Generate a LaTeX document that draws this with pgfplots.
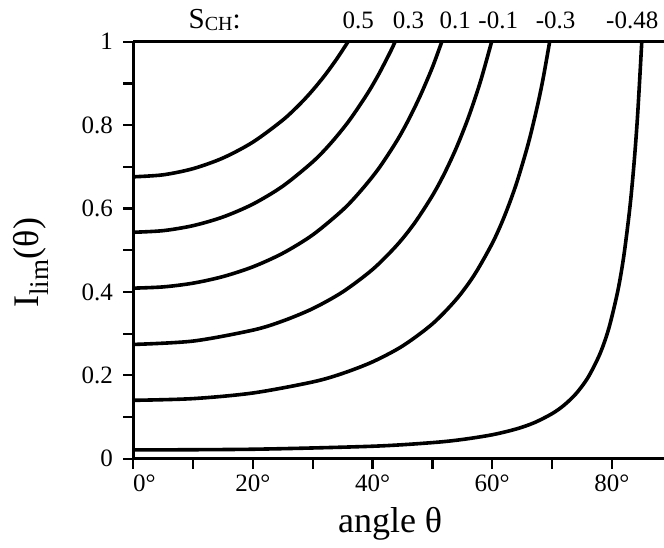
\documentclass[border=0pt]{standalone}
\usepackage{fontspec}
\setmainfont{Liberation Serif}
\usepackage{pgfplots}
\pgfplotsset{compat=1.18}
\pgfplotsset{curve/.style={black, solid, line width=3.6pt, smooth, mark=none}}
\begin{document}
\begin{tikzpicture}
\useasboundingbox (-133.3pt,-88.3pt) rectangle (530.7pt,458.7pt);
\clip (-133.3pt,-88.3pt) rectangle (530.7pt,458.7pt);
\begin{axis}[
  scale only axis, width=538.4pt, height=417pt,
  xmin=0, xmax=90, ymin=0, ymax=1,
  separate axis lines,
  axis line style={black, line width=2.6pt},
  xtick={0,20,40,60,80}, xticklabels={\hspace*{22pt}0°,20°,40°,60°,80°},
  minor xtick={10,30,50,70,90},
  ytick={0,0.2,0.4,0.6,0.8,1}, yticklabels={0,0.2,0.4,0.6,0.8,1},
  minor ytick={0.1,0.3,0.5,0.7,0.9},
  tick align=outside, xtick pos=left, ytick pos=left,
  major tick length=10pt, minor tick length=10pt,
  tick style={black, line width=2.2pt},
  minor tick style={black, line width=2.2pt},
  tick label style={font=\fontsize{25}{28}\selectfont},
  xticklabel style={yshift=-3pt},
  yticklabel style={xshift=-7pt},
  xlabel={angle θ}, ylabel={I\textsubscript{\fontsize{27}{28}\selectfont lim}(θ)},
  label style={font=\fontsize{36}{40}\selectfont},
  xlabel style={at={(axis description cs:0.477,-0.155)}, anchor=center},
  ylabel style={at={(axis description cs:-0.19,0.47)}, anchor=center},
  clip=false,
]
\addplot[curve] coordinates {(0,0.676)(5,0.6808)(10,0.6956)(15,0.7212)(20,0.7593)(25,0.8122)(28,0.8526)(30,0.8839)(32,0.9190)(34,0.9585)(35.9,1.0)};
\addplot[curve] coordinates {(0,0.543)(5,0.5469)(10,0.5589)(15,0.5797)(20,0.6106)(25,0.6537)(30,0.7120)(33,0.7563)(36,0.8091)(39,0.8724)(41,0.9212)(43,0.9766)(43.76,1.0)};
\addplot[curve] coordinates {(0,0.409)(5,0.4120)(10,0.4210)(15,0.4368)(20,0.4602)(25,0.4928)(30,0.5369)(35,0.5964)(38,0.6420)(41,0.6955)(44,0.7609)(46,0.8124)(48,0.8715)(50,0.9386)(51.57,1.0)};
\addplot[curve] coordinates {(0,0.274)(10,0.2821)(20,0.3084)(25,0.3303)(30,0.3600)(35,0.4000)(40,0.4539)(44,0.5110)(47,0.5647)(50,0.6309)(52,0.6838)(54,0.7454)(56,0.8177)(58,0.9032)(59.9,1.0)};
\addplot[curve] coordinates {(0,0.140)(10,0.1441)(20,0.1576)(30,0.1841)(35,0.2046)(40,0.2323)(45,0.2702)(50,0.3233)(54,0.3823)(57,0.4406)(60,0.5163)(62,0.5800)(64,0.6579)(66,0.7544)(67.5,0.8428)(68.5,0.9113)(69.6,1.0)};
\addplot[curve] coordinates {(0,0.021)(20,0.0227)(40,0.0299)(50,0.0386)(55,0.0461)(60,0.0574)(64,0.0712)(67,0.0862)(70,0.1080)(72,0.1283)(74,0.1558)(76,0.1946)(78,0.2513)(79.5,0.3132)(81,0.4030)(82,0.4868)(83,0.6012)(83.7,0.7075)(84.3,0.8237)(85,1.0)};
\begin{scope}[every node/.style={anchor=base, font=\fontsize{25}{28}\selectfont}]
\node[font=\fontsize{29}{31}\selectfont] at (axis cs:13.6,1.0328) {S\raisebox{-0.22ex}{\fontsize{20}{20}\selectfont CH}:};
\node at (axis cs:37.6,1.0328) {0.5};
\node at (axis cs:46.0,1.0328) {0.3};
\node at (axis cs:53.8,1.0328) {0.1};
\node at (axis cs:61.0,1.0328) {-0.1};
\node at (axis cs:70.6,1.0328) {-0.3};
\node at (axis cs:83.4,1.0328) {-0.48};
\end{scope}
\end{axis}
\end{tikzpicture}
\end{document}
